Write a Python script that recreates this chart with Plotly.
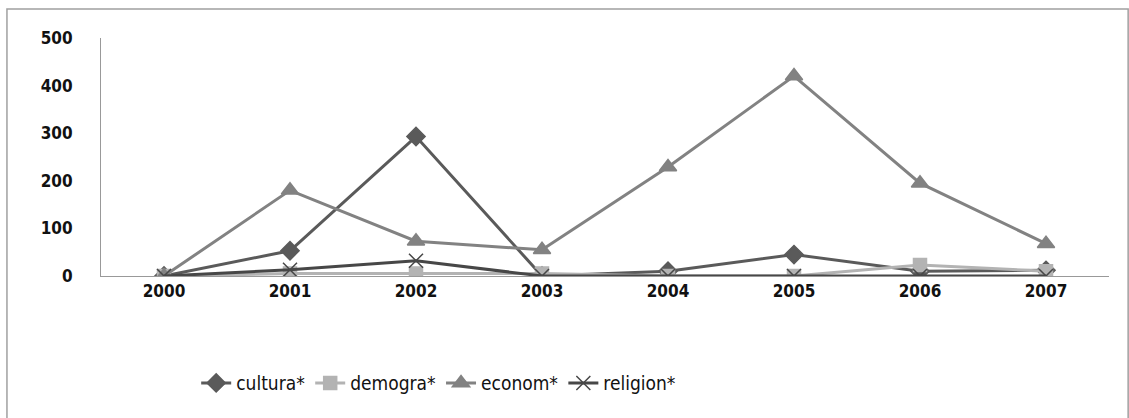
import plotly.graph_objects as go

years = ["2000", "2001", "2002", "2003", "2004", "2005", "2006", "2007"]
cultura = [0, 53, 293, 0, 10, 45, 10, 12]
demogra = [0, 5, 5, 5, 0, 0, 23, 10]
econom = [0, 180, 73, 55, 229, 420, 195, 68]
religion = [0, 13, 32, 0, 0, 0, 0, 0]
y_ticks = [0, 100, 200, 300, 400, 500]

series = [
    ("cultura*", cultura, "#5a5a5a", "diamond", 14),
    ("demogra*", demogra, "#b3b3b3", "square", 13),
    ("econom*", econom, "#828282", "triangle-up", 15),
    ("religion*", religion, "#474747", "x-thin", 14),
]

fig = go.Figure()
for name, vals, col, sym, sz in series:
    fig.add_trace(go.Scatter(
        x=years, y=vals, name=name, mode="lines+markers",
        line=dict(color=col, width=3),
        marker=dict(symbol=sym, size=sz, color=col,
                    line=dict(color=col, width=1.5)),
    ))

fig.update_layout(
    width=1129, height=418,
    margin=dict(l=101, r=20, t=38, b=142),
    paper_bgcolor="white", plot_bgcolor="white",
    font=dict(family="Liberation Sans Narrow, DejaVu Sans Condensed, sans-serif", color="#111"),
    showlegend=True,
    legend=dict(orientation="h", x=0.335, xanchor="center", y=-0.45, yanchor="middle",
                font=dict(size=19, color="#111"), itemwidth=30, traceorder="normal"),
    xaxis=dict(type="category", showgrid=False, showline=True, linecolor="#999",
               linewidth=1, ticks="", tickfont=dict(size=17, family="DejaVu Sans Condensed, sans-serif", weight="bold"),
               range=[-0.5, 7.5]),
    yaxis=dict(range=[0, 500], tickvals=y_ticks, showgrid=False, showline=True,
               linecolor="#999", linewidth=1, ticks="", zeroline=False,
               tickfont=dict(size=17, family="DejaVu Sans Condensed, sans-serif", weight="bold"),
               ticklabelstandoff=24),
)

fig.add_shape(type="rect", xref="paper", yref="paper",
              x0=-0.0933, x1=1.019, y0=-0.60, y1=1.122,
              line=dict(color="#a0a0a0", width=1.5), fillcolor="rgba(0,0,0,0)", layer="below")

fig.write_html("out.html", config={"displayModeBar": False},
               post_script="document.body.style.margin='0';document.body.style.overflow='hidden';")
